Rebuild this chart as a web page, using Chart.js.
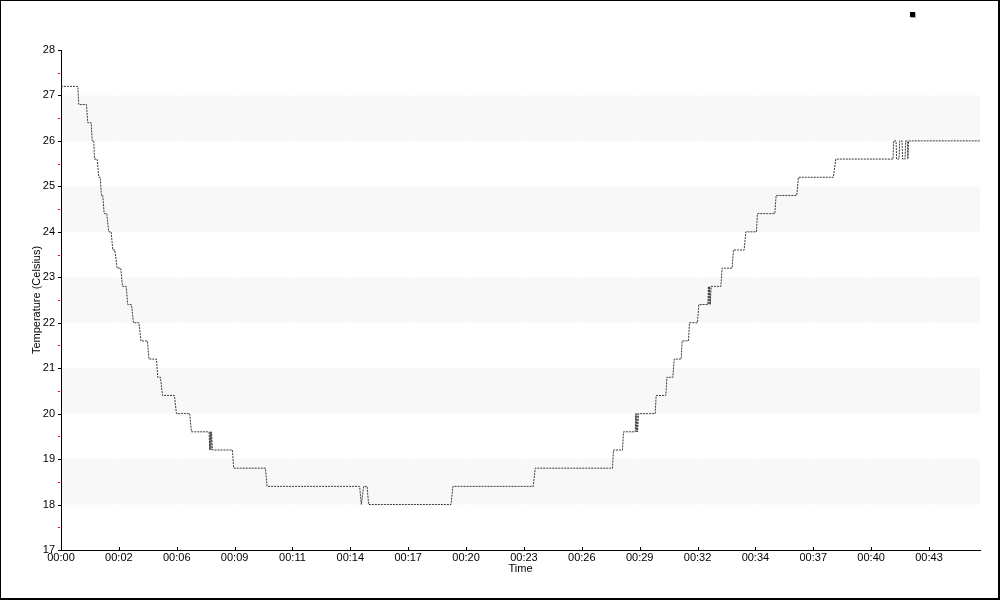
<!DOCTYPE html>
<html><head><meta charset="utf-8">
<script src="https://cdn.jsdelivr.net/npm/chart.js@4"></script>
<style>html,body{margin:0;padding:0;background:#fff;} #c{display:block;}</style>
</head><body>
<canvas id="c" width="1000" height="600"></canvas>
<script>
// ---- data (time in minutes, temperature in Celsius) ----
const timeMinutes = [
  0, 0.833, 0.882, 1.264, 1.328, 1.497, 1.547, 1.626, 1.661, 1.794,
  1.874, 1.943, 2.008, 2.072, 2.141, 2.270, 2.369, 2.488, 2.568, 2.667,
  2.786, 2.964, 3.049, 3.232, 3.311, 3.495, 3.594, 3.866, 3.966, 4.288,
  4.362, 4.734, 4.798, 4.932, 5.031, 5.626, 5.725, 6.385, 6.469, 7.346,
  7.376, 7.406, 7.436, 7.465, 7.510, 8.501, 8.566, 10.137, 10.221, 14.812,
  14.896, 15.010, 15.179, 15.258, 19.342, 19.441, 23.422, 23.521, 27.353, 27.402,
  27.848, 27.898, 28.478, 28.508, 28.537, 28.567, 28.597, 28.642, 29.469, 29.519,
  30.000, 30.049, 30.347, 30.411, 30.758, 30.808, 31.120, 31.170, 31.566, 31.636,
  32.082, 32.111, 32.141, 32.171, 32.201, 32.245, 32.726, 32.791, 33.286, 33.351,
  33.881, 33.965, 34.491, 34.541, 35.403, 35.468, 36.493, 36.573, 38.308, 38.427,
  41.267, 41.297, 41.416, 41.446, 41.564, 41.594, 41.713, 41.743, 41.862, 41.892,
  41.980, 42.000, 42.040, 45.58
];
const temperatures = [
  27.2, 27.2, 26.8, 26.8, 26.4, 26.4, 26.0, 26.0, 25.6, 25.6,
  25.2, 25.2, 24.8, 24.8, 24.4, 24.4, 24.0, 24.0, 23.6, 23.6,
  23.2, 23.2, 22.8, 22.8, 22.4, 22.4, 22.0, 22.0, 21.6, 21.6,
  21.2, 21.2, 20.8, 20.8, 20.4, 20.4, 20.0, 20.0, 19.6, 19.6,
  19.2, 19.6, 19.2, 19.6, 19.2, 19.2, 18.8, 18.8, 18.4, 18.4,
  18.0, 18.4, 18.4, 18.0, 18.0, 18.4, 18.4, 18.8, 18.8, 19.2,
  19.2, 19.6, 19.6, 20.0, 19.6, 20.0, 19.6, 20.0, 20.0, 20.4,
  20.4, 20.8, 20.8, 21.2, 21.2, 21.6, 21.6, 22.0, 22.0, 22.4,
  22.4, 22.8, 22.4, 22.8, 22.4, 22.8, 22.8, 23.2, 23.2, 23.6,
  23.6, 24.0, 24.0, 24.4, 24.4, 24.8, 24.8, 25.2, 25.2, 25.6,
  25.6, 26.0, 26.0, 25.6, 25.6, 26.0, 26.0, 25.6, 25.6, 26.0,
  26.0, 25.6, 26.0, 26.0
];
const xTickLabels = ['00:00','00:02','00:06','00:09','00:11','00:14','00:17','00:20',
                     '00:23','00:26','00:29','00:32','00:34','00:37','00:40','00:43'];
const xTickStep = 2.87;
const xMax = 45.58;
const yMin = 17, yMax = 28;
const bandStarts = [18, 20, 22, 24, 26];

Chart.defaults.font.family = '"Liberation Sans", Arial, sans-serif';
Chart.defaults.font.size = 11;
Chart.defaults.color = '#000';

const decor = {
  id: 'decor',
  beforeDraw(chart) {
    const {ctx, chartArea: a, scales: {y}} = chart;
    ctx.save();
    ctx.fillStyle = '#fff';
    ctx.fillRect(0, 0, chart.width, chart.height);
    ctx.fillStyle = '#f8f8f8';
    bandStarts.forEach(b => {
      const y1 = y.getPixelForValue(b + 1), y2 = y.getPixelForValue(b);
      ctx.fillRect(a.left, y1, a.right - a.left, y2 - y1);
    });
    ctx.restore();
  },
  afterDraw(chart) {
    const {ctx, chartArea: a, scales: {x, y}} = chart;
    ctx.save();
    ctx.lineWidth = 1;
    ctx.strokeStyle = '#000';
    x.ticks.forEach(t => {
      const px = Math.round(x.getPixelForValue(t.value)) + 0.5;
      ctx.beginPath(); ctx.moveTo(px, a.bottom - 3); ctx.lineTo(px, a.bottom); ctx.stroke();
    });
    for (let v = yMin; v <= yMax; v += 0.5) {
      const py = Math.round(y.getPixelForValue(v)) + 0.5;
      const major = Number.isInteger(v);
      ctx.strokeStyle = major ? '#000' : '#ff0000';
      ctx.beginPath();
      ctx.moveTo(a.left - 3, py);
      ctx.lineTo(major ? a.left + 1 : a.left - 1, py);
      ctx.stroke();
    }
    ctx.fillStyle = '#b0b0b0';
    ctx.fillRect(911, 13, 5, 5);
    ctx.fillStyle = '#000';
    ctx.fillRect(910, 12, 5, 5);
    ctx.fillStyle = '#000';
    ctx.fillRect(0, 0, chart.width, 1);
    ctx.fillRect(0, 0, 1, chart.height);
    ctx.fillRect(chart.width - 2, 0, 2, chart.height);
    ctx.fillRect(0, chart.height - 2, chart.width, 2);
    ctx.restore();
  }
};

new Chart(document.getElementById('c'), {
  type: 'line',
  data: {
    datasets: [{
      label: '',
      data: timeMinutes.map((t, i) => ({x: t, y: temperatures[i]})),
      borderColor: '#3a3a3a',
      borderWidth: 1,
      borderDash: [2, 1],
      pointRadius: 0,
      fill: false,
      tension: 0
    }]
  },
  options: {
    responsive: false,
    animation: false,
    devicePixelRatio: 1,
    layout: {padding: {top: 50, right: 20, left: 0, bottom: 0}},
    plugins: {legend: {display: false}, tooltip: {enabled: false}},
    scales: {
      x: {
        type: 'linear', min: 0, max: xMax,
        afterBuildTicks: s => { s.ticks = xTickLabels.map((_, i) => ({value: i * xTickStep})); },
        afterFit: s => { s.height = 50; },
        ticks: {autoSkip: false, maxRotation: 0, padding: 1, callback: (v, i) => xTickLabels[i]},
        grid: {drawTicks: false, color: 'rgba(255,255,255,0.45)'},
        border: {color: '#000', width: 1},
        title: {display: true, text: 'Time', padding: {top: 0, bottom: 24}}
      },
      y: {
        type: 'linear', min: yMin, max: yMax,
        afterFit: s => { s.width = 61; },
        ticks: {stepSize: 1, autoSkip: false, padding: 6},
        grid: {display: false, drawTicks: false},
        border: {display: true, color: '#000', width: 1},
        title: {display: true, text: 'Temperature (Celsius)', padding: {top: 30, bottom: 0}}
      }
    }
  },
  plugins: [decor]
});
</script>
</body></html>
